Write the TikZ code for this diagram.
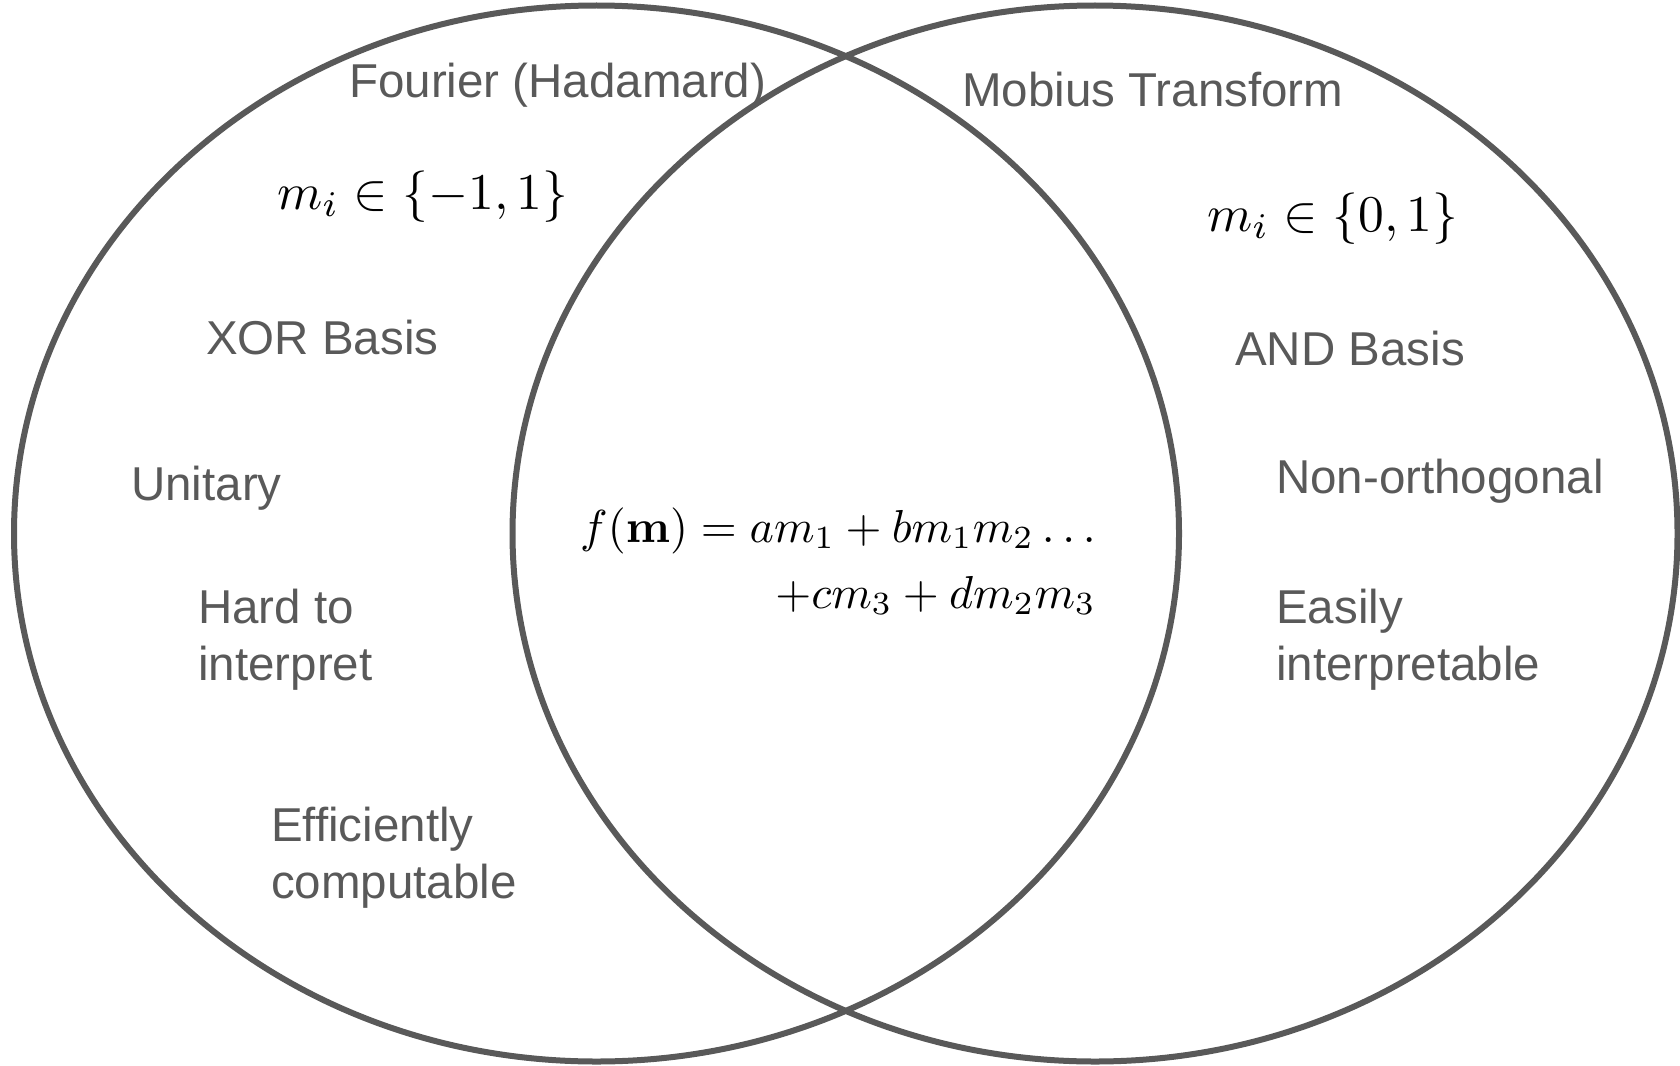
\documentclass[tikz,border=0pt]{standalone}
\usepackage{graphicx}
\usepackage[no-math]{fontspec}
\setmainfont{Liberation Sans}
\usetikzlibrary{shapes.geometric}
\definecolor{inkgray}{HTML}{595959}
\tikzset{
  ring/.style={ellipse, draw=inkgray, line width=6pt, inner sep=0pt, outer sep=0pt,
    minimum width=1165pt, minimum height=1056pt},
  % multi-line labels are placed by the baseline of their last line
  lbl/.style={text=inkgray, inner sep=0pt, anchor=base west, align=left,
    font=\fontsize{47.5}{57}\selectfont},
  mathlbl/.style={text=black, inner sep=0pt, anchor=base west,
    font=\fontsize{10}{12}\selectfont},
}
\begin{document}
\begin{tikzpicture}[x=1pt,y=-1pt]
\useasboundingbox (0,0) rectangle (1680,1065);
% the two overlapping sets
\node[ring] (fourier) at (596.5,533.5) {};
\node[ring] (mobius) at (1095,533.5) {};
% left set: Fourier (Hadamard)
\node[lbl] (ftitle) at (349,97) {Fourier (Hadamard)};
\node[mathlbl] (fdom) at (277,209) {\scalebox{5.15}{$m_i \in \{-1,1\}$}};
\node[lbl] (xor) at (206,354) {XOR Basis};
\node[lbl] (unit) at (131,500) {Unitary};
\node[lbl] (hard) at (198,680) {Hard to\\interpret};
\node[lbl] (eff) at (271,898) {Efficiently\\computable};
% right set: Mobius transform
\node[lbl] (mtitle) at (962,106) {Mobius Transform};
\node[mathlbl] (mdom) at (1207,231) {\scalebox{5.15}{$m_i \in \{0,1\}$}};
\node[lbl] (andb) at (1235,365) {AND Basis};
\node[lbl] (nonorth) at (1276,493) {Non-orthogonal};
\node[lbl] (easy) at (1276,680) {Easily\\interpretable};
% shared expansion in the overlap
\node[text=black, inner sep=0pt, anchor=base east, align=right,
  font=\fontsize{10}{66}\selectfont] (expand) at (1096,608)
  {\scalebox{4.62}{$f(\mathbf{m}) = a m_1 + b m_1 m_2 \ldots$}\\
   \scalebox{4.62}{$+c m_3 + d m_2 m_3$}};
\end{tikzpicture}
\end{document}
